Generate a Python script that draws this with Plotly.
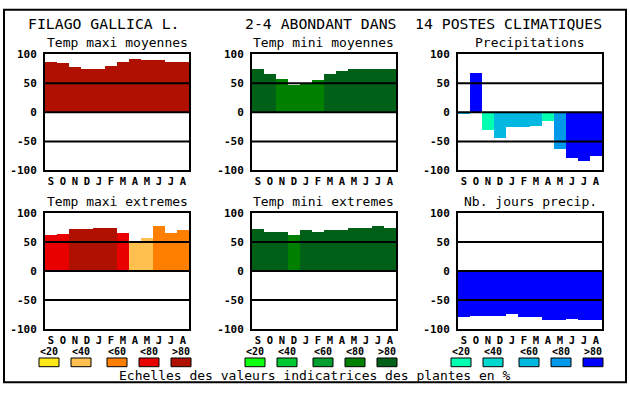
import plotly.graph_objects as go

W, H = 630, 394

months = ["S", "O", "N", "D", "J", "F", "M", "A", "M", "J", "J", "A"]

red_palette = ["#FFE818", "#FFC050", "#FF8000", "#E80000", "#B01000"]
green_palette = ["#10FF10", "#00C830", "#00A030", "#008000", "#006018"]
blue_palette = ["#00FFB0", "#00D8D0", "#00B8E0", "#0098E8", "#0000FF"]
class_labels = ["<20", "<40", "<60", "<80", ">80"]

# Panel data (values) and class index (0..4 -> <20 .. >80)
tmax_moy = [86, 84, 77, 74, 75, 80, 87, 92, 90, 90, 87, 87]
tmax_moy_cls = [4, 4, 4, 4, 4, 4, 4, 4, 4, 4, 4, 4]

tmin_moy = [74, 65, 57, 47, 50, 55, 65, 70, 75, 75, 75, 75]
tmin_moy_cls = [4, 4, 3, 3, 3, 3, 4, 4, 4, 4, 4, 4]

precip = [-4, 67, -31, -44, -26, -26, -24, -16, -64, -80, -84, -76]
precip_cls = [2, 4, 0, 2, 2, 2, 2, 0, 3, 4, 4, 4]

tmax_ext = [62, 64, 72, 72, 74, 75, 65, 52, 57, 77, 65, 70]
tmax_ext_cls = [3, 3, 4, 4, 4, 4, 3, 1, 1, 2, 2, 2]

tmin_ext = [72, 67, 67, 62, 70, 67, 70, 70, 74, 75, 77, 75]
tmin_ext_cls = [4, 4, 4, 3, 4, 4, 4, 4, 4, 4, 4, 4]

nb_jours = [-80, -78, -78, -78, -74, -80, -80, -85, -84, -82, -84, -84]
nb_jours_cls = [4, 4, 4, 4, 4, 4, 4, 4, 4, 4, 4, 4]

titles = ["Temp maxi moyennes", "Temp mini moyennes", "Precipitations",
          "Temp maxi extremes", "Temp mini extremes", "Nb. jours precip."]
y_ticks = [-100, -50, 0, 50, 100]

panels = [
    (tmax_moy, tmax_moy_cls, red_palette),
    (tmin_moy, tmin_moy_cls, green_palette),
    (precip, precip_cls, blue_palette),
    (tmax_ext, tmax_ext_cls, red_palette),
    (tmin_ext, tmin_ext_cls, green_palette),
    (nb_jours, nb_jours_cls, blue_palette),
]

FONT = "DejaVu Sans Mono"


def PX(x):
    return x / W


def PY(y):
    return 1 - y / H


col_px = [(45, 189), (252, 396), (458, 602)]
row_px = [(50, 170), (214, 334)]

fig = go.Figure()
shapes = []
annotations = []

for i, (vals, cls, pal) in enumerate(panels):
    r, c = divmod(i, 3)
    n = i + 1
    xa = "x" if n == 1 else f"x{n}"
    ya = "y" if n == 1 else f"y{n}"
    fig.add_trace(go.Bar(
        x=list(range(12)), y=vals, width=1,
        marker=dict(color=[pal[k] for k in cls], line=dict(width=0)),
        xaxis=xa, yaxis=ya, showlegend=False, hoverinfo="skip",
    ))
    x0, x1 = col_px[c]
    y0, y1 = row_px[r]
    xkey = "xaxis" if n == 1 else f"xaxis{n}"
    ykey = "yaxis" if n == 1 else f"yaxis{n}"
    fig.update_layout(**{
        xkey: dict(domain=[PX(x0), PX(x1)], anchor=ya, range=[-0.5, 11.5],
                   tickvals=list(range(12)), ticktext=months,
                   tickfont=dict(family=FONT, size=10.5, color="black", weight="bold"),
                   showgrid=False, zeroline=False, showline=True, mirror=True,
                   linecolor="black", linewidth=2, ticks="", ticklabelstandoff=0,
                   fixedrange=True),
        ykey: dict(domain=[PY(y1), PY(y0)], anchor=xa, range=[-100, 100],
                   tickvals=y_ticks, ticktext=[str(v) for v in y_ticks],
                   tickfont=dict(family=FONT, size=11, color="black", weight="bold"),
                   showgrid=False, zeroline=False, showline=True, mirror=True,
                   linecolor="black", linewidth=2, ticks="", ticklabelstandoff=4,
                   fixedrange=True),
    })
    for gy in (50, 0, -50):
        shapes.append(dict(type="line", xref=f"{xa} domain", yref=ya,
                           x0=0, x1=1, y0=gy, y1=gy, layer="above",
                           line=dict(color="black", width=2)))
    annotations.append(dict(text=titles[i], x=PX((x0 + x1) / 2),
                            y=PY(y0 - 12), xref="paper", yref="paper",
                            xanchor="center", yanchor="middle", showarrow=False,
                            font=dict(family=FONT, size=13, color="black")))

# Header texts
header = [("FILAGO GALLICA L.", 26), ("2-4 ABONDANT DANS", 243), ("14 POSTES CLIMATIQUES", 413)]
for txt, xl in header:
    annotations.append(dict(text=txt, x=PX(xl), y=PY(18), xref="paper", yref="paper",
                            xanchor="left", yanchor="middle", showarrow=False,
                            font=dict(family=FONT, size=14.8, color="black")))

# Legend swatches
legend_starts = [[39, 71, 107, 139, 171], [245, 277, 313, 345, 377], [451, 483, 519, 551, 583]]
for pal, starts in zip([red_palette, green_palette, blue_palette], legend_starts):
    for k, sx in enumerate(starts):
        shapes.append(dict(type="rect", xref="paper", yref="paper",
                           x0=PX(sx), x1=PX(sx + 20), y0=PY(373), y1=PY(364),
                           fillcolor=pal[k], line=dict(color="black", width=1)))
        annotations.append(dict(text=class_labels[k], x=PX(sx + 10), y=PY(357.5),
                                xref="paper", yref="paper", xanchor="center",
                                yanchor="middle", showarrow=False,
                                font=dict(family=FONT, size=10, color="black", weight="bold")))

annotations.append(dict(text="Echelles des valeurs indicatrices des plantes en %",
                        x=PX(315), y=PY(382), xref="paper", yref="paper",
                        xanchor="center", yanchor="middle", showarrow=False,
                        font=dict(family=FONT, size=13, color="black")))

# Outer frame
shapes.append(dict(type="rect", xref="paper", yref="paper",
                   x0=PX(4), x1=PX(626), y0=PY(389), y1=PY(4),
                   line=dict(color="black", width=2), fillcolor="rgba(0,0,0,0)"))

fig.update_layout(width=W, height=H, margin=dict(l=0, r=0, t=0, b=0),
                  paper_bgcolor="white", plot_bgcolor="white",
                  bargap=0, shapes=shapes, annotations=annotations,
                  showlegend=False)

fig.write_html("out.html", config={"displayModeBar": False},
               post_script="document.body.style.margin='0';document.body.style.overflow='hidden';")
